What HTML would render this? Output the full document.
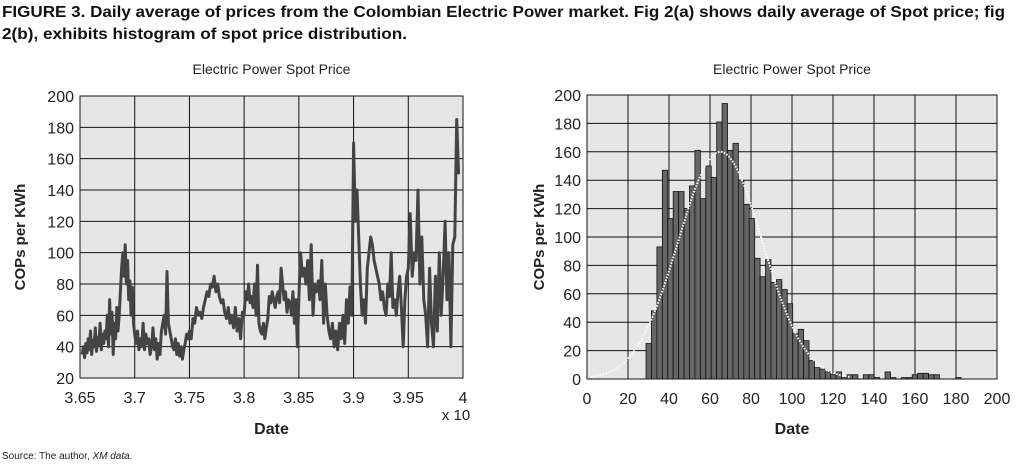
<!DOCTYPE html>
<html><head><meta charset="utf-8"><style>
html,body{margin:0;padding:0;background:#fff;}
svg{display:block;font-family:"Liberation Sans",sans-serif;}
</style></head><body>
<svg id="fig" width="1018" height="465" viewBox="0 0 1018 465" xmlns="http://www.w3.org/2000/svg">
<text x="2" y="17" font-size="16" font-weight="bold" fill="#111" textLength="1003" lengthAdjust="spacingAndGlyphs">FIGURE 3. Daily average of prices from the Colombian Electric Power market. Fig 2(a) shows daily average of Spot price; fig</text>
<text x="2" y="39" font-size="16" font-weight="bold" fill="#111" textLength="405" lengthAdjust="spacingAndGlyphs">2(b), exhibits histogram of spot price distribution.</text>
<text x="2" y="459" font-size="10" fill="#222">Source: The author, <tspan font-style="italic">XM data</tspan>.</text>
<g id="left"></g>
<g id="right"></g>
</svg>
<script>
const NS="http://www.w3.org/2000/svg";
// ---- left chart data ----
const lineXTicks=[3.65,3.7,3.75,3.8,3.85,3.9,3.95,4];
const lineXTickLabels=["3.65","3.7","3.75","3.8","3.85","3.9","3.95","4"];
const lineYTicks=[20,40,60,80,100,120,140,160,180,200];
const segmentStarts=[3.652,3.7,3.75,3.8,3.85,3.9,3.95];
const segmentEnds=[3.7,3.75,3.8,3.85,3.9,3.95,3.996];
const seg1=[35,40,33,42,36,45,38,50,35,44,40,52,37,46,41,55,38,48,42,50,45,60,40,70,48,62,35,55,45,65,50,60,75,90,100,85,105,80,95,70,82,60,78,55];
const seg2=[48,42,50,38,45,40,55,38,48,42,45,35,40,52,38,45,32,42,35,50,55,60,48,88,55,50,45,40,38,45,35,42,34,40,32,38,42,48,45];
const seg3=[50,45,58,55,65,60,62,58,65,70,75,72,80,78,85,75,80,72,68,70,62,58,65,55,60,52,65,50,58,45,62];
const seg4=[60,75,70,80,68,72,65,80,60,92,55,50,48,55,45,52,58,72,68,75,70,65,72,75,68,90,80,70,75,62,70,68,60,75,55,70,40];
const seg5=[72,100,85,90,80,95,70,105,60,80,75,82,70,95,55,80,60,50,45,55,40,50,38,55,45,60,42,70,55,78,60];
const seg6=[170,120,140,110,80,60,70,55,90,100,110,105,95,90,85,80,70,75,65,60,80,72,100,65,70,60,75,85,65,40,70,85];
const seg7=[90,125,85,100,95,140,80,110,70,60,40,90,55,40,85,50,100,60,85,120,70,100,40,105,110,185,150];
const spotSegments=[seg1,seg2,seg3,seg4,seg5,seg6,seg7];
// ---- right chart data ----
const histXTicks=[0,20,40,60,80,100,120,140,160,180,200];
const histYTicks=[0,20,40,60,80,100,120,140,160,180,200];
const binStart=28.8, binWidth=2.65;
const binCounts=[25,48,93,147,113,132,132,119,136,161,127,150,142,181,194,161,166,140,123,113,85,72,84,68,70,63,53,32,35,27,13,8,7,5,3,5,1,3,3,0,3,3,1,0,5,1,0,1,1,3,4,4,3,3,0,0,0,1];
const fitMean=[65], fitSigma=[20.5], fitPeak=[160];

function mk(tag,attrs,parent,name){const e=document.createElementNS(NS,tag);for(const k in attrs)e.setAttribute(k,attrs[k]);


parent.appendChild(e);return e;}
function txt(parent,x,y,s,size,anchor,name,extra){const t=mk('text',Object.assign({x:x,y:y,'font-size':size,'text-anchor':anchor,fill:'#222'},extra||{}),parent,name);t.textContent=s;return t;}

function frame(g,L,T,R,B,xs,ys,xt,yt,xl){
  mk('rect',{x:L,y:T,width:R-L,height:B-T,fill:'#e6e6e6'},g,'plot-area');
  xt.forEach((v,i)=>{const x=xs(v);mk('line',{x1:x,y1:T,x2:x,y2:B,stroke:'#111','stroke-width':1},g,'x-gridline');
    txt(g,x,B+25,xl[i],16,'middle','x-tick-label');});
  yt.forEach(v=>{const y=ys(v);mk('line',{x1:L,y1:y,x2:R,y2:y,stroke:'#111','stroke-width':1},g,'y-gridline');
    txt(g,L-6,y+6,String(v),16,'end','y-tick-label');});
  mk('rect',{x:L,y:T,width:R-L,height:B-T,fill:'none',stroke:'#111','stroke-width':1},g,'plot-border');
}
// left
(function(){const g=document.getElementById('left');const L=80,T=96,R=463,B=378;
  const xs=v=>L+(v-3.65)/(0.35)*(R-L), ys=v=>B-(v-20)/180*(B-T);
  frame(g,L,T,R,B,xs,ys,lineXTicks,lineYTicks,lineXTickLabels);
  let d='';let first=true;
  spotSegments.forEach((seg,s)=>{const a=segmentStarts[s],b=segmentEnds[s],last=s===spotSegments.length-1;
    seg.forEach((v,i)=>{const t=a+(b-a)*i/(last?seg.length-1:seg.length);d+=(first?'M':'L')+xs(t).toFixed(1)+' '+ys(v).toFixed(1);first=false;});});
  mk('path',{d:d,fill:'none',stroke:'#444','stroke-width':3,'stroke-linejoin':'round'},g,'spot-price-line');
  txt(g,(L+R)/2,74,'Electric Power Spot Price',14,'middle','left-chart-title');
  txt(g,(L+R)/2,434,'Date',16,'middle','left-x-axis-title',{'font-weight':'bold'});
  txt(g,456,420,'x 10',15,'middle','x-axis-multiplier');
  txt(g,25,(T+B)/2,'COPs per KWh',15,'middle','left-y-axis-title',{transform:'rotate(-90 25 '+(T+B)/2+')','font-weight':'bold'});
})();
// right
(function(){const g=document.getElementById('right');const L=587,T=95,R=997,B=379;
  const xs=v=>L+v/200*(R-L), ys=v=>B-v/200*(B-T);
  frame(g,L,T,R,B,xs,ys,histXTicks,histYTicks,histXTicks.map(String));
  binCounts.forEach((c,i)=>{if(!c)return;const x0=xs(binStart+i*binWidth),x1=xs(binStart+(i+1)*binWidth);
    mk('rect',{x:x0,y:ys(c),width:x1-x0,height:B-ys(c),fill:'#666',stroke:'#111','stroke-width':0.8},g,'histogram-bar');});
  let d='';for(let v=2;v<=128;v+=1){const y=fitPeak[0]*Math.exp(-Math.pow(v-fitMean[0],2)/(2*fitSigma[0]*fitSigma[0]));d+=(v>2?'L':'M')+xs(v).toFixed(1)+' '+ys(y).toFixed(1);}
  mk('path',{d:d,fill:'none',stroke:'#fff','stroke-width':2,'stroke-dasharray':'1.5 1.5'},g,'normal-fit-curve');
  txt(g,(L+R)/2,74,'Electric Power Spot Price',14,'middle','right-chart-title');
  txt(g,(L+R)/2,434,'Date',16,'middle','right-x-axis-title',{'font-weight':'bold'});
  txt(g,544,(T+B)/2,'COPs per KWh',15,'middle','right-y-axis-title',{transform:'rotate(-90 544 '+(T+B)/2+')','font-weight':'bold'});
})();
</script>
</body></html>
